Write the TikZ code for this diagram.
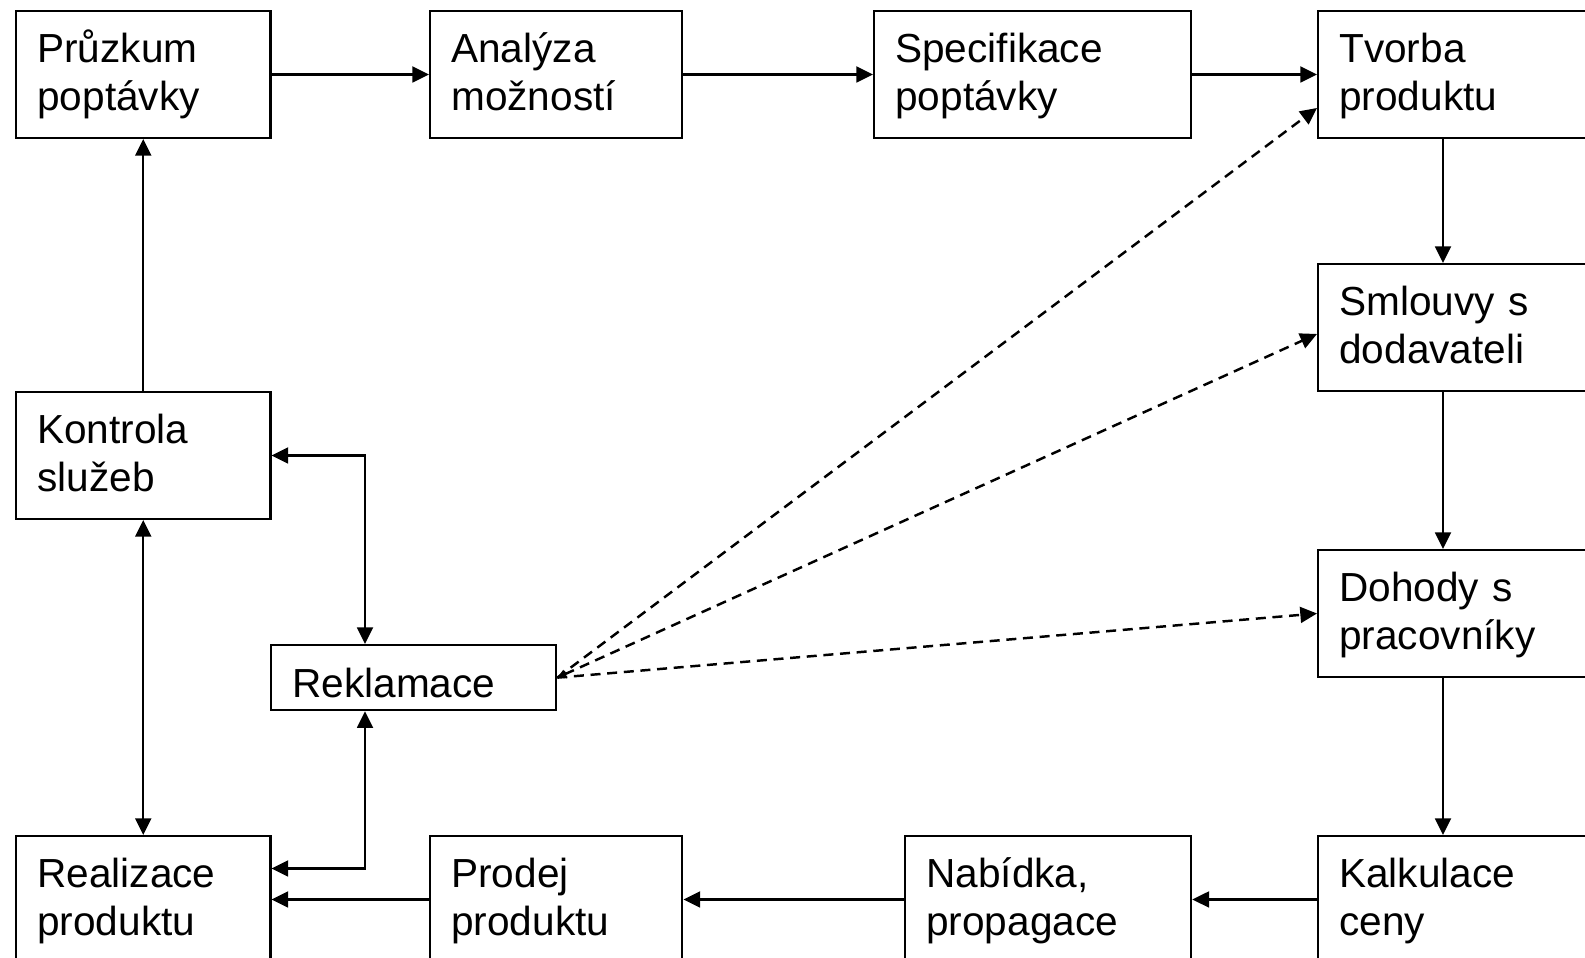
\documentclass[tikz,border=0pt]{standalone}
\usepackage{fontspec}
\setmainfont{Liberation Sans}
\usetikzlibrary{arrows.meta,calc}

\begin{document}
\begin{tikzpicture}[x=0.02cm, y=-0.02cm, >={Triangle[length=9.5pt,width=9pt]}]
		\tikzstyle {box} = [draw, line width=1.4pt, anchor=north west, align=left, inner xsep=12pt, inner ysep=0pt, minimum height=72pt, text height=18.7pt, text depth=32.9pt, font=\fontsize{23.1}{27.7}\selectfont]
		\tikzstyle {short box} = [box, minimum height=36.9pt, text height=22.1pt, text depth=0pt]
		\tikzstyle {flow} = [line width=1.4pt, ->]
		\tikzstyle {both} = [line width=1.4pt, <->]
		\tikzstyle {link} = [flow, dash pattern=on 5.7pt off 3.8pt]

		\useasboundingbox (0,0) rectangle (1585,957);
		\clip (0,0) rectangle (1585,957);

		\node[box, text width=120.6pt] (prz) at (15,10) {Průzkum\\poptávky};
		\node[box, text width=119.4pt] (anl) at (429,10) {Analýza\\možností};
		\node[box, text width=156.3pt] (spe) at (873,10) {Specifikace\\poptávky};
		\node[box, text width=146.1pt] (tvo) at (1317,10) {Tvorba\\produktu};

		\node[box, text width=146.1pt] (sml) at (1317,263) {Smlouvy s\\dodavateli};
		\node[box, text width=146.1pt] (dho) at (1317,549) {Dohody s\\pracovníky};

		\node[box, text width=146.1pt] (kal) at (1317,835) {Kalkulace\\ceny};
		\node[box, text width=138.7pt] (nab) at (904,835) {Nabídka,\\propagace};
		\node[box, text width=119.4pt] (pro) at (429,835) {Prodej\\produktu};
		\node[box, text width=120.6pt] (rea) at (15,835) {Realizace\\produktu};

		\node[box, text width=120.6pt] (kon) at (15,391) {Kontrola\\služeb};
		\node[short box, text width=138.1pt] (rek) at (270,644) {Reklamace};

		\coordinate (col) at (1443,0);
		\coordinate (rx) at (365,0);

		\draw[flow] (prz.east) -- (anl.west);
		\draw[flow] (anl.east) -- (spe.west);
		\draw[flow] (spe.east) -- (tvo.west);

		\draw[flow] (tvo.south -| col) -- (sml.north -| col);
		\draw[flow] (sml.south -| col) -- (dho.north -| col);
		\draw[flow] (dho.south -| col) -- (kal.north -| col);

		\draw[flow] (kal.west) -- (nab.east);
		\draw[flow] (nab.west) -- (pro.east);
		\draw[flow] (pro.west) -- (rea.east);

		\draw[flow] (kon.north) -- (prz.south);
		\draw[both] (kon.south) -- (rea.north);
		\draw[both] (kon.east) -| (rek.north -| rx);
		\draw[both] (rek.south -| rx) |- ($(rea.east)+(0,-31)$);

		\draw[link] (rek.east) -- ($(tvo.west)+(0,33.5)$);
		\draw[link, {Triangle[length=5pt,width=5pt]}->] (rek.east) -- ($(sml.west)+(0,6.5)$);
		\draw[link] (rek.east) -- (dho.west);
\end{tikzpicture}
\end{document}
